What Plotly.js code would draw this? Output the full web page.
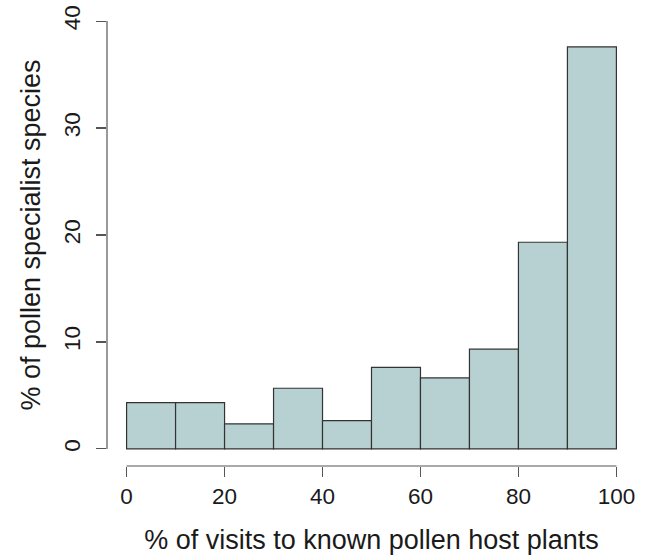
<!DOCTYPE html>
<html>
<head>
<meta charset="utf-8">
<script src="https://cdn.plot.ly/plotly-3.0.1.min.js"></script>
<style>html,body{margin:0;padding:0;background:#fff}#chart{width:646px;height:555px}</style>
</head>
<body>
<div id="chart"></div>
<script>
// Histogram bins (% of visits to known pollen host plants)
var binStart = [0, 10, 20, 30, 40, 50, 60, 70, 80, 90];
var binWidth = 10;
// % of pollen specialist species in each bin
var pctSpecies = [4.33, 4.33, 2.34, 5.67, 2.65, 7.63, 6.64, 9.32, 19.32, 37.6];
var xTicks = [0, 20, 40, 60, 80, 100];
var yTicks = [0, 10, 20, 30, 40];

var centers = binStart.map(function (s) { return s + binWidth / 2; });

var trace = {
  type: 'bar',
  x: centers,
  y: pctSpecies,
  width: binStart.map(function () { return binWidth; }),
  marker: { color: '#b7d1d2', line: { color: '#333333', width: 1.2 } },
  hoverinfo: 'x+y'
};

var fam = 'Liberation Sans, Arial, sans-serif';

var layout = {
  width: 646, height: 555,
  margin: { l: 107, r: 10, t: 4, b: 89 },
  paper_bgcolor: '#fff', plot_bgcolor: '#fff',
  showlegend: false,
  font: { family: fam, size: 22, color: '#1a1a1a' },
  xaxis: {
    range: [-4, 104], showgrid: false, zeroline: false, showline: false,
    tickmode: 'array', tickvals: xTicks, ticktext: xTicks.map(String),
    ticks: 'outside', ticklen: 10, tickcolor: '#555', tickwidth: 1.2,
    tickfont: { family: fam, size: 22.5, color: '#1a1a1a' },
    title: { text: '% of visits to known pollen host plants', font: { family: fam, size: 27, color: '#1a1a1a' }, standoff: 24 }
  },
  yaxis: {
    range: [-1.6, 41.6], showgrid: false, zeroline: false, showline: false,
    tickmode: 'array', tickvals: yTicks, ticktext: yTicks.map(String),
    ticks: 'outside', ticklen: 10, tickcolor: '#555', tickwidth: 1.2, tickangle: -90,
    ticklabelstandoff: 7,
    tickfont: { family: fam, size: 22.5, color: '#1a1a1a' },
    title: { text: '% of pollen specialist species', font: { family: fam, size: 27, color: '#1a1a1a' }, standoff: 11 }
  },
  shapes: [
    { type: 'line', xref: 'x', yref: 'paper', x0: xTicks[0], x1: xTicks[xTicks.length - 1], y0: 0, y1: 0, line: { color: '#555', width: 1.2 } },
    { type: 'line', xref: 'paper', yref: 'y', x0: 0, x1: 0, y0: yTicks[0], y1: yTicks[yTicks.length - 1], line: { color: '#555', width: 1.2 } }
  ]
};

Plotly.newPlot('chart', [trace], layout, { displayModeBar: false, staticPlot: true });
</script>
</body>
</html>
